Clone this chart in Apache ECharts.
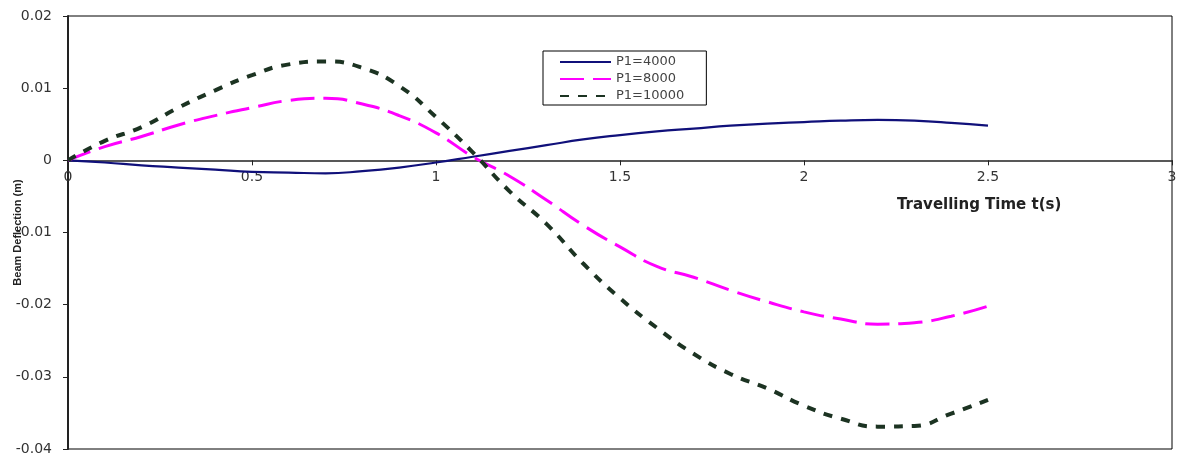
<!DOCTYPE html>
<html>
<head>
<meta charset="utf-8">
<script src="https://cdn.jsdelivr.net/npm/echarts@6/dist/echarts.min.js"></script>
<style>html,body{margin:0;padding:0;background:#fff}#c{width:1181px;height:458px}</style>
</head>
<body>
<div id="c"></div>
<script>
const times = [0,0.1,0.2,0.3,0.4,0.5,0.6,0.7,0.8,0.9,1.0,1.1,1.2,1.3,1.4,1.5,1.6,1.7,1.8,1.9,2.0,2.1,2.2,2.3,2.4,2.5];
const p4000 = [0,-0.0003,-0.0007,-0.0010,-0.0013,-0.0016,-0.0017,-0.0018,-0.0015,-0.0010,-0.0003,0.0005,0.0013,0.0021,0.0029,0.0035,0.0040,0.0044,0.0048,0.0051,0.0053,0.0055,0.0056,0.0055,0.0052,0.0048];
const p8000 = [0,0.0019,0.0033,0.0049,0.0062,0.0073,0.0083,0.0086,0.0078,0.0062,0.0038,0.0005,-0.0022,-0.0055,-0.0090,-0.0120,-0.0147,-0.0162,-0.0180,-0.0196,-0.0210,-0.0220,-0.0227,-0.0225,-0.0216,-0.0202];
const p10000 = [0,0.0027,0.0046,0.0073,0.0097,0.0118,0.0133,0.0137,0.0128,0.0103,0.0060,0.0011,-0.0043,-0.0088,-0.0143,-0.0191,-0.0232,-0.0268,-0.0296,-0.0316,-0.0340,-0.0358,-0.0369,-0.0368,-0.0351,-0.0332];
const seriesNames = ['P1=4000','P1=8000','P1=10000'];
const xTitle = 'Travelling Time t(s)';
const yTitle = 'Beam Deflection (m)';
const xMin = 0, xMax = 3, xStep = 0.5;
const yMin = -0.04, yMax = 0.02, yStep = 0.01;

const pair = ys => times.map((t,i)=>[t,ys[i]]);
const H = 458;
const G = {left:68,right:9,top:16,bottom:9};
const plotH = H - G.top - G.bottom;
// upper helper grid ends exactly at the y = 0 line, so its x axis labels sit under the zero line
const upperH = plotH * (yMax - 0) / (yMax - yMin);

const chart = echarts.init(document.getElementById('c'), null, {renderer:'canvas'});
chart.setOption({
  animation:false,
  backgroundColor:'#fff',
  grid:[
    Object.assign({show:true,borderColor:'#000',borderWidth:1,containLabel:false,outerBoundsMode:'none'},G),
    {left:G.left,right:G.right,top:G.top,height:upperH,show:false,containLabel:false,outerBoundsMode:'none'}
  ],
  legend:{
    orient:'vertical',left:543,top:51,
    data:seriesNames,
    borderColor:'#000',borderWidth:1,padding:[3,22,1,16],
    itemWidth:51,itemHeight:10,itemGap:1,
    itemStyle:{opacity:0},
    textStyle:{fontFamily:'"DejaVu Sans", Arial',fontSize:13,color:'#444',lineHeight:16}
  },
  graphic:[{type:'text',left:897,top:198,style:{text:xTitle,font:'bold 15px "DejaVu Sans", Arial',fill:'#222'}}],
  xAxis:[
    {gridIndex:0,type:'value',min:xMin,max:xMax,interval:xStep,
     axisLine:{show:false},axisTick:{show:false},axisLabel:{show:false},splitLine:{show:false}},
    {gridIndex:1,type:'value',min:xMin,max:xMax,interval:xStep,position:'bottom',
     axisLine:{onZero:false,lineStyle:{color:'#222',width:1.5}},
     axisTick:{show:true,length:5,lineStyle:{color:'#222'}},
     axisLabel:{color:'#333',fontSize:14,fontFamily:'"DejaVu Sans", Arial',margin:10},
     splitLine:{show:false}}
  ],
  yAxis:[
    {gridIndex:0,type:'value',min:yMin,max:yMax,interval:yStep,
     name:yTitle,nameLocation:'middle',nameGap:45,nameMoveOverlap:false,
     nameTextStyle:{fontFamily:'"Liberation Sans Narrow", "Liberation Sans", Arial',fontSize:11,fontWeight:'bold',color:'#222'},
     axisLine:{show:true,onZero:false,lineStyle:{color:'#222',width:2}},
     axisTick:{show:true,length:5,lineStyle:{color:'#222'}},
     axisLabel:{color:'#333',fontSize:14,fontFamily:'"DejaVu Sans", Arial',margin:16,
       formatter:v=>{const r=Math.round(v*100)/100;return r===0?'0':String(r);}},
     splitLine:{show:false}},
    {gridIndex:1,type:'value',min:0,max:yMax,show:false}
  ],
  series:[
    {name:seriesNames[0],type:'line',xAxisIndex:0,yAxisIndex:0,smooth:true,symbol:'none',data:pair(p4000),
     lineStyle:{color:'#10107a',width:2.2},itemStyle:{color:'#10107a'},z:3},
    {name:seriesNames[1],type:'line',xAxisIndex:0,yAxisIndex:0,smooth:true,symbol:'none',data:pair(p8000),
     lineStyle:{color:'#ff00ff',width:3,type:[24,9]},itemStyle:{color:'#ff00ff'},z:3},
    {name:seriesNames[2],type:'line',xAxisIndex:0,yAxisIndex:0,smooth:true,symbol:'none',data:pair(p10000),
     lineStyle:{color:'#1c3322',width:4,type:[9,9]},itemStyle:{color:'#1c3322'},z:3}
  ]
});
</script>
</body>
</html>
